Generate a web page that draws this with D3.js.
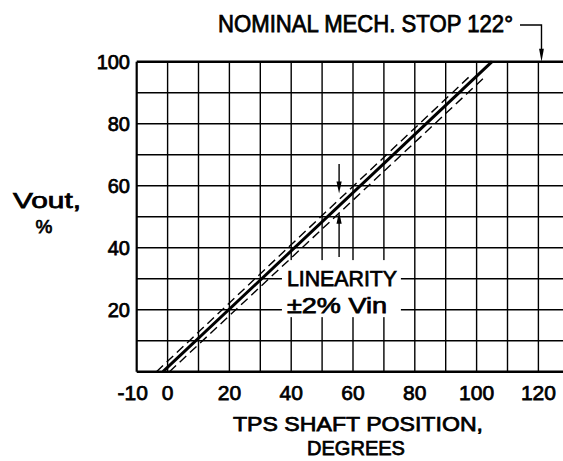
<!DOCTYPE html>
<html><head><meta charset="utf-8">
<script src="https://cdn.jsdelivr.net/npm/d3@7"></script>
<style>
body{margin:0;background:#fff}
svg{display:block;background:#fff}
text{font-family:"Liberation Sans",Arial,sans-serif;fill:#000;stroke:#000;stroke-width:0.75px}
</style>
</head><body>
<svg id="c" width="563" height="461"></svg>
<script>
// ---- data ----
const xTickValues = [-10, 0, 20, 40, 60, 80, 100, 120];
const xTickLabels = ["-10", "0", "20", "40", "60", "80", "100", "120"];
const yTickValues = [20, 40, 60, 80, 100];
const yTickLabels = ["20", "40", "60", "80", "100"];
const xGridValues = [-10, 0, 10, 20, 30, 40, 50, 60, 70, 80, 90, 100, 110, 120];
const yGridValues = [0, 10, 20, 30, 40, 50, 60, 70, 80, 90, 100];
// nominal output (solid)
const nominalX = [-1.5, 105];
const nominalY = [0, 100];
// +2% / -2% linearity band (dashed)
const upperX = [-3.6, 98];
const upperY = [0, 95.5];
const lowerX = [0.6, 103];
const lowerY = [0, 95.4];
// annotations
const stopText = "NOMINAL MECH. STOP 122°";
const stopArrowX = 121;
const linearityText = ["LINEARITY", "±2% Vin"];
const linearityArrowX = 55.5;
const upperArrowY = [67, 57.5];
const lowerArrowY = [37, 51.6];
const labelBoxX = [37, 75.5];
const labelBoxY = [17.6, 36];
const xTitle = ["TPS SHAFT POSITION,", "DEGREES"];
const yTitle = ["Vout,", "%"];

// ---- chart ----
const svg = d3.select("#c");
const x = d3.scaleLinear().domain([-10, 130]).range([136.7, 136.7 + 140 * 3.09]);
const y = d3.scaleLinear().domain([0, 100]).range([371.7, 61.7]);

// grid
const g = svg.append("g");
g.selectAll("line.vg").data(xGridValues).join("line")
  .attr("x1", d => x(d)).attr("x2", d => x(d))
  .attr("y1", y(0)).attr("y2", y(100))
  .attr("stroke", "#000").attr("stroke-width", d => d === -10 ? 2.2 : 1.4);
g.selectAll("line.hg").data(yGridValues).join("line")
  .attr("x1", x(-10)).attr("x2", x(130))
  .attr("y1", d => y(d)).attr("y2", d => y(d))
  .attr("stroke", "#000").attr("stroke-width", d => (d === 0 || d === 100) ? 2.4 : 1.4);

// white box behind linearity label
svg.append("rect")
  .attr("x", x(labelBoxX[0])).attr("y", y(labelBoxY[1]))
  .attr("width", x(labelBoxX[1]) - x(labelBoxX[0]))
  .attr("height", y(labelBoxY[0]) - y(labelBoxY[1]))
  .attr("fill", "#fff");

const line = d3.line().x(d => x(d[0])).y(d => y(d[1]));
const pairs = (xs, ys) => xs.map((v, i) => [v, ys[i]]);

svg.append("path").attr("d", line(pairs(upperX, upperY)))
  .attr("fill", "none").attr("stroke", "#000").attr("stroke-width", 1.4)
  .attr("stroke-dasharray", "9,5");
svg.append("path").attr("d", line(pairs(lowerX, lowerY)))
  .attr("fill", "none").attr("stroke", "#000").attr("stroke-width", 1.4)
  .attr("stroke-dasharray", "9,5");
svg.append("path").attr("d", line(pairs(nominalX, nominalY)))
  .attr("fill", "none").attr("stroke", "#000").attr("stroke-width", 3);

// arrows helper
function arrow(xp, y1, y2) {
  const dir = y2 > y1 ? 1 : -1;
  svg.append("line").attr("x1", xp).attr("x2", xp).attr("y1", y1).attr("y2", y2 - dir * 8)
    .attr("stroke", "#000").attr("stroke-width", 1.4);
  svg.append("path")
    .attr("d", `M${xp},${y2} L${xp - 2.6},${y2 - dir * 12} L${xp + 2.6},${y2 - dir * 12} Z`)
    .attr("fill", "#000");
}
arrow(x(linearityArrowX), y(upperArrowY[0]), y(upperArrowY[1]));
arrow(x(linearityArrowX), y(lowerArrowY[0]), y(lowerArrowY[1]));

// linearity label
svg.append("text").attr("x", 342).attr("y", 286).attr("text-anchor", "middle")
  .attr("font-size", 22).attr("textLength", 110).attr("lengthAdjust", "spacingAndGlyphs")
  .text(linearityText[0]);
svg.append("text").attr("x", 337).attr("y", 313).attr("text-anchor", "middle")
  .attr("font-size", 22).attr("textLength", 100).attr("lengthAdjust", "spacingAndGlyphs")
  .text(linearityText[1]);

// stop annotation
const sx = x(stopArrowX);
svg.append("path").attr("d", `M520,25 L${sx},25 L${sx},${y(100) - 8}`)
  .attr("fill", "none").attr("stroke", "#000").attr("stroke-width", 1.4);
svg.append("path")
  .attr("d", `M${sx},${y(100)} L${sx - 2.4},${y(100) - 13} L${sx + 2.4},${y(100) - 13} Z`)
  .attr("fill", "#000");
svg.append("text").attr("x", 218).attr("y", 32).attr("font-size", 23)
  .attr("textLength", 295).attr("lengthAdjust", "spacingAndGlyphs").text(stopText);

// x tick labels
svg.selectAll("text.xt").data(xTickValues).join("text")
  .attr("x", (d) => x(d) + (d === -10 ? -4 : 0)).attr("y", 400)
  .attr("text-anchor", "middle").attr("font-size", 21)
  .text((d, i) => xTickLabels[i]);
// y tick labels
svg.selectAll("text.yt").data(yTickValues).join("text")
  .attr("x", 130).attr("y", d => y(d) + 7.5)
  .attr("text-anchor", "end").attr("font-size", 20)
  .text((d, i) => yTickLabels[i]);

// titles
svg.append("text").attr("x", 233).attr("y", 431).attr("font-size", 21)
  .attr("textLength", 250).attr("lengthAdjust", "spacingAndGlyphs").text(xTitle[0]);
svg.append("text").attr("x", 307).attr("y", 455).attr("font-size", 21)
  .attr("textLength", 98).attr("lengthAdjust", "spacingAndGlyphs").text(xTitle[1]);
svg.append("text").attr("x", 13).attr("y", 208).attr("font-size", 22)
  .attr("textLength", 68).attr("lengthAdjust", "spacingAndGlyphs").text(yTitle[0]);
svg.append("text").attr("x", 44).attr("y", 233).attr("text-anchor", "middle")
  .attr("font-size", 19).text(yTitle[1]);
</script>
</body></html>
